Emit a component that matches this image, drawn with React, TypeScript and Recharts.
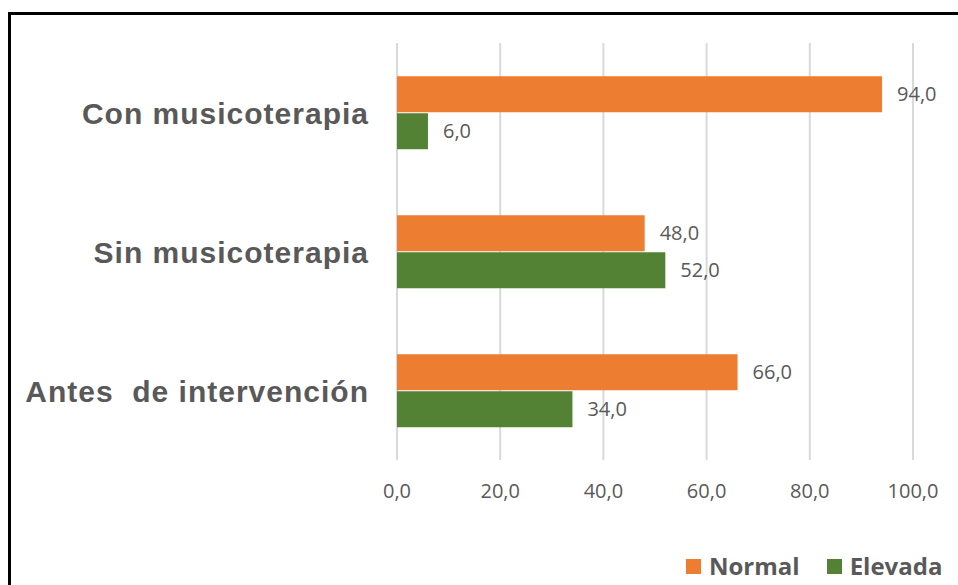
import { Bar, BarChart, CartesianGrid, LabelList, Legend, XAxis, YAxis } from 'recharts';

const categories = ['Con musicoterapia', 'Sin musicoterapia', 'Antes  de intervención'];
const normalValues = [94.0, 48.0, 66.0];
const elevadaValues = [6.0, 52.0, 34.0];
const xTicks = [0, 20, 40, 60, 80, 100];

const ORANGE = '#ED7D31';
const GREEN = '#548235';
const TEXT_GRAY = '#595959';

const data = categories.map((name, i) => ({
  name,
  normal: normalValues[i],
  elevada: elevadaValues[i],
}));

const fmt = (v: number) => v.toFixed(1).replace('.', ',');

function CategoryTick({ x, y, payload }: { x?: number; y?: number; payload?: { value: string } }) {
  return (
    <text
      x={x}
      y={(y ?? 0) + 11}
      textAnchor="end"
      fill={TEXT_GRAY}
      fontFamily="'Liberation Sans', Arial, sans-serif"
      fontWeight="bold"
      fontSize={30}
      letterSpacing={1}
      style={{ whiteSpace: 'pre' }}
    >
      {payload?.value}
    </text>
  );
}

function LegendContent() {
  const items = [
    { label: 'Normal', color: ORANGE },
    { label: 'Elevada', color: GREEN },
  ];
  return (
    <div style={{ display: 'flex', alignItems: 'center', height: 30 }}>
      {items.map((it, i) => (
        <div key={it.label} style={{ display: 'flex', alignItems: 'center', marginLeft: i === 0 ? 0 : 27 }}>
          <span style={{ width: 15, height: 15, background: it.color, display: 'inline-block' }} />
          <span
            style={{
              marginLeft: 8,
              fontFamily: "'Open Sans', sans-serif",
              fontWeight: 700,
              fontSize: 24,
              color: TEXT_GRAY,
              lineHeight: '30px',
            }}
          >
            {it.label}
          </span>
        </div>
      ))}
    </div>
  );
}

export default function App() {
  return (
    <>
      <style>{'body{margin:0;overflow:hidden;background:#fff}'}</style>
      <div
        style={{
          position: 'absolute',
          left: 8,
          top: 12,
          width: 947,
          height: 570,
          borderTop: '3px solid #000',
          borderLeft: '3px solid #000',
          background: '#fff',
        }}
      >
        <BarChart
          width={947}
          height={570}
          data={data}
          layout="vertical"
          margin={{ top: 28, right: 45, left: 0, bottom: 55 }}
          barCategoryGap="24%"
          barGap={1}
        >
          {/* vertical gridlines only */}
          <CartesianGrid horizontal={false} stroke="#D9D9D9" strokeWidth={2} />
          <XAxis
            type="number"
            domain={[0, 100]}
            ticks={xTicks}
            tickFormatter={fmt}
            axisLine={false}
            tickLine={false}
            height={40}
            tickMargin={18}
            tick={{ fontSize: 20, fill: TEXT_GRAY, fontFamily: "'Open Sans', sans-serif" }}
          />
          <YAxis
            type="category"
            dataKey="name"
            width={386}
            axisLine={false}
            tickLine={false}
            tickSize={0}
            tickMargin={28}
            tick={<CategoryTick />}
          />
          <Legend
            verticalAlign="bottom"
            content={<LegendContent />}
            wrapperStyle={{ left: 675, top: 536, width: 'auto' }}
          />
          <Bar dataKey="normal" name="Normal" fill={ORANGE} isAnimationActive={false}>
            <LabelList
              dataKey="normal"
              position="right"
              offset={15}
              formatter={(v: number) => fmt(v)}
              fill={TEXT_GRAY}
              fontSize={20}
              fontFamily="'Open Sans', sans-serif"
            />
          </Bar>
          <Bar dataKey="elevada" name="Elevada" fill={GREEN} isAnimationActive={false}>
            <LabelList
              dataKey="elevada"
              position="right"
              offset={15}
              formatter={(v: number) => fmt(v)}
              fill={TEXT_GRAY}
              fontSize={20}
              fontFamily="'Open Sans', sans-serif"
            />
          </Bar>
        </BarChart>
      </div>
    </>
  );
}
